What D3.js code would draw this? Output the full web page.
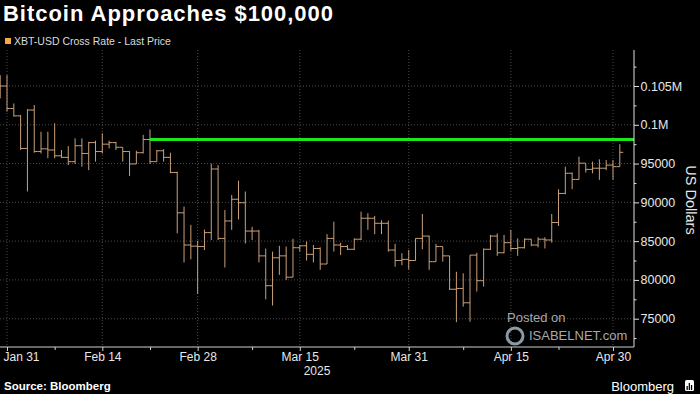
<!DOCTYPE html>
<html>
<head>
<meta charset="utf-8">
<script src="https://cdn.jsdelivr.net/npm/d3@7"></script>
<style>
body{margin:0;background:#000;}
svg{display:block;font-family:"Liberation Sans",Arial,sans-serif;}
</style>
</head>
<body>
<div id="chart"></div>
<script>
// daily XBT-USD bars
var dates = ["2025-01-30","2025-01-31",
	"2025-02-01","2025-02-02","2025-02-03","2025-02-04","2025-02-05","2025-02-06","2025-02-07","2025-02-08","2025-02-09","2025-02-10",
	"2025-02-11","2025-02-12","2025-02-13","2025-02-14","2025-02-15","2025-02-16","2025-02-17","2025-02-18","2025-02-19","2025-02-20",
	"2025-02-21","2025-02-22","2025-02-23","2025-02-24","2025-02-25","2025-02-26","2025-02-27","2025-02-28",
	"2025-03-01","2025-03-02","2025-03-03","2025-03-04","2025-03-05","2025-03-06","2025-03-07","2025-03-08","2025-03-09","2025-03-10",
	"2025-03-11","2025-03-12","2025-03-13","2025-03-14","2025-03-15","2025-03-16","2025-03-17","2025-03-18","2025-03-19","2025-03-20",
	"2025-03-21","2025-03-22","2025-03-23","2025-03-24","2025-03-25","2025-03-26","2025-03-27","2025-03-28","2025-03-29","2025-03-30","2025-03-31",
	"2025-04-01","2025-04-02","2025-04-03","2025-04-04","2025-04-05","2025-04-06","2025-04-07","2025-04-08","2025-04-09","2025-04-10",
	"2025-04-11","2025-04-12","2025-04-13","2025-04-14","2025-04-15","2025-04-16","2025-04-17","2025-04-18","2025-04-19","2025-04-20",
	"2025-04-21","2025-04-22","2025-04-23","2025-04-24","2025-04-25","2025-04-26","2025-04-27","2025-04-28","2025-04-29","2025-04-30",
	"2025-05-01"];

var opens = [104700,105000,
	102100,101150,96950,101900,96550,96900,96750,96000,95800,95250,
	97300,96300,97700,96550,97500,97700,97100,96550,94950,96400,
	98100,95250,96650,95800,93850,88650,84500,84350,
	84300,86100,94300,85350,87600,90400,89950,86300,86300,83100,
	79250,82850,83100,80350,84150,84400,83300,84050,82050,85350,
	84500,84300,83950,85250,87950,87950,87300,87300,83850,82500,82650,
	82500,85350,85650,82350,84300,83100,78800,78900,77050,83200,
	79900,83950,85650,83500,84800,84050,84150,85250,84500,85250,
	85150,87400,91150,93750,92950,95050,94250,94400,94400,94800,
	94600];

var highs = [106400,106400,
	102750,101250,102000,102550,99100,99100,100200,96750,97250,98250,
	98250,97800,97950,98900,97950,97800,97100,96600,96650,98700,
	99400,96750,96850,96400,93950,89450,87100,85050,
	86500,95000,94800,89000,90950,92800,91400,86850,86450,84050,
	83650,84400,84300,85300,84500,84950,84500,84200,85900,87500,
	84800,84500,85350,88800,88600,88250,87700,87650,84650,83450,83850,
	85350,88500,85700,84650,84300,83100,81050,80850,83200,83500,
	84050,85800,86000,85800,86450,85350,85350,85250,85500,85500,
	88500,91700,94600,93850,95900,95050,95250,95550,95450,95450,
	97500];

var lows = [103400,101700,
	101050,96750,91400,96400,96300,95700,95700,95700,94800,94950,
	94600,94150,95250,96300,96950,96750,95250,93400,94950,96300,
	94950,95250,95250,93750,86000,82250,82650,78200,
	83850,85150,85150,81600,86450,87800,84700,85150,82250,77500,
	76700,80650,80000,80350,83650,82500,82250,81300,82050,83650,
	83200,83850,83850,85150,86450,85900,85900,83650,81700,81900,81350,
	82500,83950,81300,82350,82350,78700,74550,76550,74600,78500,
	79150,83850,83100,83450,83750,83100,84050,84350,84200,84050,
	84800,86950,91050,91700,92950,93850,93750,92900,94150,92900,
	94600];

var closes = [105000,102100,
	101150,96950,101900,96550,96900,96750,96000,95800,95250,97300,
	96300,97700,96550,97500,97700,97100,96550,94950,96400,98100,
	95250,96650,95800,93850,88650,84500,84350,84300,
	86100,94300,85350,87600,90400,89950,86300,86300,83100,79250,
	82850,83100,80350,84150,84400,83300,84050,82050,85350,84500,
	84300,83950,85250,87950,87950,87300,87300,83850,82500,82650,82500,
	85350,85650,82350,84300,83100,78800,78900,77050,83200,79900,
	83950,85650,83500,84800,84050,84150,85250,84500,85250,85150,
	87400,91150,93750,92950,95050,94250,94400,94400,94800,94600,
	96450];

// green reference level
var levelValue = 98100;
var levelStart = "2025-02-21";

var xTickDates = ["2025-01-31","2025-02-14","2025-02-28","2025-03-15","2025-03-31","2025-04-15","2025-04-30"];
var xTickLabels = ["Jan 31","Feb 14","Feb 28","Mar 15","Mar 31","Apr 15","Apr 30"];
var xMinorDates = ["2025-02-07","2025-02-21","2025-03-08","2025-03-23","2025-04-08","2025-04-22"];
var yTicks = [75000,80000,85000,90000,95000,100000,105000];
var yTickLabels = ["75000","80000","85000","90000","95000","0.1M","0.105M"];
var yMinor = [72500,77500,82500,87500,92500,97500,102500,107500];

function init(){
	chart();
}

function chart(){
	var width = 700;
	var height = 394;
	var plotLeft = 0, plotRight = 634, plotTop = 50, plotBottom = 347;
	var barColor = "#c9a07a";
	var textColor = "#e8e8e8";

	var parse = d3.utcParse("%Y-%m-%d");

	var x = d3.scaleUtc()
			  .domain([parse("2025-01-31"), parse("2025-04-30")])
			  .range([7, 613]);
	var y = d3.scaleLinear()
			  .domain([75000, 105000])
			  .range([318.7, 86]);

	var svg = d3.select("#chart").append("svg")
				.attr("width", width)
				.attr("height", height);

	svg.append("rect")
	   .attr("width", width)
	   .attr("height", height)
	   .attr("fill", "#000");

	svg.append("defs").append("clipPath")
	   .attr("id", "plotclip")
	   .append("rect")
	   .attr("x", plotLeft)
	   .attr("y", plotTop)
	   .attr("width", plotRight - plotLeft)
	   .attr("height", plotBottom - plotTop);

	//dotted grid
	svg.append("g").selectAll("line")
	   .data(yTicks).enter()
	   .append("line")
	   .attr("x1", plotLeft).attr("x2", plotRight)
	   .attr("y1", d => y(d)).attr("y2", d => y(d))
	   .attr("stroke", "#4a4a4a")
	   .attr("stroke-dasharray", "1,2");

	svg.append("g").selectAll("line")
	   .data(xTickDates).enter()
	   .append("line")
	   .attr("x1", d => x(parse(d))).attr("x2", d => x(parse(d)))
	   .attr("y1", plotTop).attr("y2", plotBottom)
	   .attr("stroke", "#4a4a4a")
	   .attr("stroke-dasharray", "1,2");

	//watermark
	var wm = svg.append("g").attr("fill", "#a9a9a9");
	wm.append("text").attr("x", 507).attr("y", 322).style("font-size", "13px").text("Posted on");
	wm.append("circle").attr("cx", 515).attr("cy", 336).attr("r", 8)
	  .attr("fill", "none").attr("stroke", "#8a9aa4").attr("stroke-width", 3);
	wm.append("text").attr("x", 529).attr("y", 340).style("font-size", "13px").text("ISABELNET.com");

	//OHLC bars
	var bars = d3.range(dates.length).map(function(i){
		return {date: parse(dates[i]), o: opens[i], h: highs[i], l: lows[i], c: closes[i]};
	});
	var half = (x(parse("2025-02-01")) - x(parse("2025-01-31"))) / 2;

	var g = svg.append("g").attr("clip-path", "url(#plotclip)")
			   .attr("stroke", barColor).attr("stroke-width", 1);

	var bar = g.selectAll("g.bar").data(bars).enter().append("g").attr("class", "bar");
	bar.append("line")
	   .attr("x1", d => x(d.date)).attr("x2", d => x(d.date))
	   .attr("y1", d => y(d.h)).attr("y2", d => y(d.l));
	bar.append("line")
	   .attr("x1", d => x(d.date) - half).attr("x2", d => x(d.date))
	   .attr("y1", d => y(d.o)).attr("y2", d => y(d.o));
	bar.append("line")
	   .attr("x1", d => x(d.date)).attr("x2", d => x(d.date) + half)
	   .attr("y1", d => y(d.c)).attr("y2", d => y(d.c));

	//green level line
	svg.append("line")
	   .attr("x1", x(parse(levelStart))).attr("x2", plotRight)
	   .attr("y1", y(levelValue)).attr("y2", y(levelValue))
	   .attr("stroke", "#1ee61e")
	   .attr("stroke-width", 3);

	//x axis
	var xAxis = svg.append("g")
				   .attr("transform", "translate(0," + plotBottom + ")")
				   .call(d3.axisBottom(x)
						   .tickValues(xTickDates.map(parse))
						   .tickSize(4)
						   .tickSizeOuter(0)
						   .tickPadding(1)
						   .tickFormat((d, i) => xTickLabels[i]));
	xAxis.select(".domain").remove();
	xAxis.selectAll("line").attr("stroke", "#cfcfcf");
	xAxis.selectAll("text").attr("fill", textColor).style("font-size", "12px")
		 .style("font-family", "'Liberation Sans',Arial,sans-serif");
	xAxis.select("text").attr("x", 14);

	var xMinorAxis = svg.append("g")
						.attr("transform", "translate(0," + plotBottom + ")")
						.call(d3.axisBottom(x)
								.tickValues(xMinorDates.map(parse))
								.tickSize(3)
								.tickSizeOuter(0)
								.tickFormat(""));
	xMinorAxis.select(".domain").remove();
	xMinorAxis.selectAll("line").attr("stroke", "#cfcfcf");

	svg.append("line")
	   .attr("x1", plotLeft).attr("x2", plotRight)
	   .attr("y1", plotBottom).attr("y2", plotBottom)
	   .attr("stroke", "#cfcfcf");

	svg.append("text")
	   .attr("x", 317).attr("y", 375)
	   .attr("text-anchor", "middle")
	   .attr("fill", textColor)
	   .style("font-size", "12px")
	   .text("2025");

	//y axis
	var yAxis = svg.append("g")
				   .attr("transform", "translate(" + plotRight + ",0)")
				   .call(d3.axisRight(y)
						   .tickValues(yTicks)
						   .tickSize(5)
						   .tickSizeOuter(0)
						   .tickPadding(1.5)
						   .tickFormat((d, i) => yTickLabels[i]));
	yAxis.select(".domain").remove();
	yAxis.selectAll("line").attr("stroke", "#e0e0e0");
	yAxis.selectAll("text").attr("fill", textColor).style("font-size", "12.5px")
		 .style("font-family", "'Liberation Sans',Arial,sans-serif");

	var yMinorAxis = svg.append("g")
						.attr("transform", "translate(" + plotRight + ",0)")
						.call(d3.axisRight(y)
								.tickValues(yMinor.filter(v => y(v) > plotTop && y(v) < plotBottom))
								.tickSize(2.5)
								.tickSizeOuter(0)
								.tickFormat(""));
	yMinorAxis.select(".domain").remove();
	yMinorAxis.selectAll("line").attr("stroke", "#e0e0e0");

	svg.append("line")
	   .attr("x1", plotRight).attr("x2", plotRight)
	   .attr("y1", plotTop).attr("y2", plotBottom)
	   .attr("stroke", "#e0e0e0");

	svg.append("text")
	   .attr("transform", "translate(686,200) rotate(90)")
	   .attr("text-anchor", "middle")
	   .attr("fill", textColor)
	   .style("font-size", "14.5px")
	   .text("US Dollars");

	//title and legend
	svg.append("text")
	   .attr("x", 3).attr("y", 21)
	   .attr("fill", "#fff")
	   .style("font-size", "22px")
	   .style("font-weight", "bold")
	   .attr("textLength", 330)
	   .attr("lengthAdjust", "spacing")
	   .text("Bitcoin Approaches $100,000");

	svg.append("rect")
	   .attr("x", 5).attr("y", 38)
	   .attr("width", 6).attr("height", 6)
	   .attr("fill", "#f5a945");

	svg.append("text")
	   .attr("x", 14).attr("y", 45)
	   .attr("fill", "#dcdcdc")
	   .style("font-size", "10.5px")
	   .text("XBT-USD Cross Rate - Last Price");

	//footer
	svg.append("text")
	   .attr("x", 4).attr("y", 390)
	   .attr("fill", "#fff")
	   .style("font-size", "11.5px")
	   .style("font-weight", "bold")
	   .text("Source: Bloomberg");

	svg.append("text")
	   .attr("x", 674).attr("y", 391)
	   .attr("text-anchor", "end")
	   .attr("fill", "#fff")
	   .style("font-size", "13px")
	   .text("Bloomberg");

	var icon = svg.append("g").attr("transform", "translate(685,380)");
	icon.append("rect").attr("width", 9).attr("height", 11).attr("rx", 1.5).attr("fill", "#fff");
	icon.selectAll("rect.b").data([4, 7, 5]).enter().append("rect")
		.attr("class", "b")
		.attr("x", (d, i) => 1.5 + i * 2.2)
		.attr("y", d => 10 - d)
		.attr("width", 1.3)
		.attr("height", d => d)
		.attr("fill", "#000");
}

window.onload = init;
</script>
</body>
</html>
